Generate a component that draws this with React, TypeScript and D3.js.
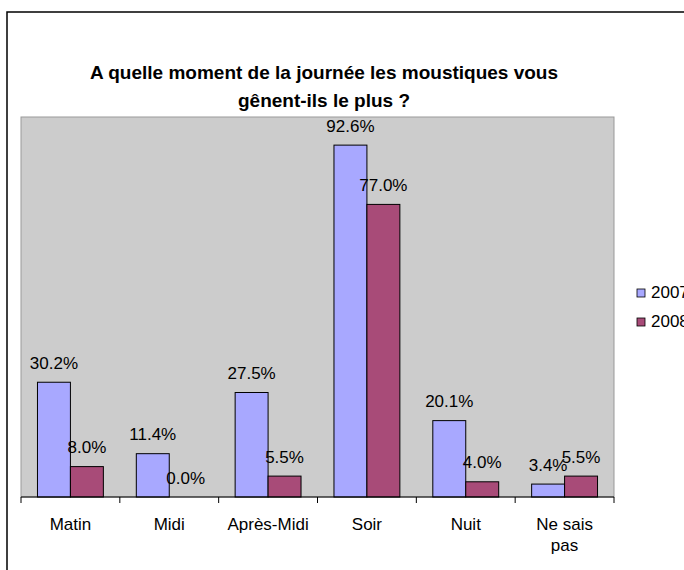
import { useEffect, useRef } from "react"
import * as d3 from "d3"

const categories = ["Matin", "Midi", "Après-Midi", "Soir", "Nuit", "Ne sais pas"]
const seriesNames = ["2007", "2008"]
const values2007 = [30.2, 11.4, 27.5, 92.6, 20.1, 3.4]
const values2008 = [8.0, 0.0, 5.5, 77.0, 4.0, 5.5]
const colors = ["#a8a8ff", "#a84b78"]

const width = 684
const height = 570

export default function App() {
    const svgRef = useRef<SVGSVGElement>(null)

    useEffect(() => {
        const svg = d3.select(svgRef.current)
        svg.selectAll("*").remove()

        const font = "Arial, 'Liberation Sans', sans-serif"
        const plot = { left: 21, right: 614, top: 117, bottom: 497 }

        // cadre extérieur (coupé à droite et en bas)
        svg.append("rect")
            .attr("x", 7).attr("y", 12)
            .attr("width", 720).attr("height", 600)
            .attr("fill", "#fff").attr("stroke", "#000").attr("stroke-width", 1.5)

        // titre
        const title = svg.append("text")
            .attr("text-anchor", "middle")
            .attr("font-family", font)
            .attr("font-weight", "bold")
            .attr("font-size", 19)
        title.append("tspan").attr("x", 324).attr("y", 79).text("A quelle moment de la journée les moustiques vous")
        title.append("tspan").attr("x", 324).attr("y", 107).text("gênent-ils le plus ?")

        // zone de tracé
        svg.append("rect")
            .attr("x", plot.left).attr("y", plot.top)
            .attr("width", plot.right - plot.left).attr("height", plot.bottom - plot.top)
            .attr("fill", "#cccccc").attr("stroke", "#999").attr("stroke-width", 1)

        const x0 = d3.scaleBand<string>()
            .domain(categories)
            .range([plot.left, plot.right])

        const x1 = d3.scaleBand<string>()
            .domain(seriesNames)
            .range([0, x0.bandwidth()])
            .paddingOuter(0.5)

        const y = d3.scaleLinear()
            .domain([0, 100])
            .range([plot.bottom, plot.top])

        const data = categories.map((c, i) => ({ cat: c, vals: [values2007[i], values2008[i]] }))

        const groups = svg.append("g").selectAll("g")
            .data(data)
            .join("g")
            .attr("transform", d => `translate(${x0(d.cat)},0)`)

        groups.selectAll("rect")
            .data(d => d.vals.map((v, k) => ({ v, k })))
            .join("rect")
            .attr("x", d => x1(seriesNames[d.k])!)
            .attr("y", d => y(d.v))
            .attr("width", x1.bandwidth())
            .attr("height", d => plot.bottom - y(d.v))
            .attr("fill", d => colors[d.k])
            .attr("stroke", d => d.v > 0 ? "#000" : "none")
            .attr("stroke-width", 1)

        groups.selectAll("text")
            .data(d => d.vals.map((v, k) => ({ v, k })))
            .join("text")
            .attr("x", d => x1(seriesNames[d.k])! + x1.bandwidth() / 2)
            .attr("y", d => y(d.v) - 13.5)
            .attr("text-anchor", "middle")
            .attr("font-family", font)
            .attr("font-size", 17)
            .text(d => d.v.toFixed(1) + "%")

        // axe des catégories
        const axis = svg.append("g")
        axis.append("line")
            .attr("x1", plot.left).attr("x2", plot.right)
            .attr("y1", plot.bottom).attr("y2", plot.bottom)
            .attr("stroke", "#000")
        const tickPos = categories.map(c => x0(c)!).concat([plot.right])
        axis.selectAll("line.tick")
            .data(tickPos)
            .join("line")
            .attr("class", "tick")
            .attr("x1", d => d).attr("x2", d => d)
            .attr("y1", plot.bottom).attr("y2", plot.bottom + 6)
            .attr("stroke", "#000")

        const catLabels = axis.selectAll("text")
            .data(categories)
            .join("text")
            .attr("text-anchor", "middle")
            .attr("font-family", font)
            .attr("font-size", 17)
        catLabels.each(function (c) {
            const cx = x0(c)! + x0.bandwidth() / 2
            const lines = c === "Ne sais pas" ? ["Ne sais", "pas"] : [c]
            lines.forEach((l, i) => {
                d3.select(this).append("tspan").attr("x", cx).attr("y", 530 + i * 21).text(l)
            })
        })

        // légende
        const legend = svg.append("g")
        seriesNames.forEach((s, i) => {
            legend.append("rect")
                .attr("x", 637).attr("y", 289 + i * 29)
                .attr("width", 8).attr("height", 8)
                .attr("fill", colors[i]).attr("stroke", "#000").attr("stroke-width", 0.8)
            legend.append("text")
                .attr("x", 651).attr("y", 298 + i * 29)
                .attr("font-family", font)
                .attr("font-size", 17)
                .text(s)
        })
    }, [])

    return (
        <svg
            ref={svgRef}
            width={width}
            height={height}
            style={{ position: "absolute", left: 0, top: 0, background: "#fff" }}
        />
    )
}
